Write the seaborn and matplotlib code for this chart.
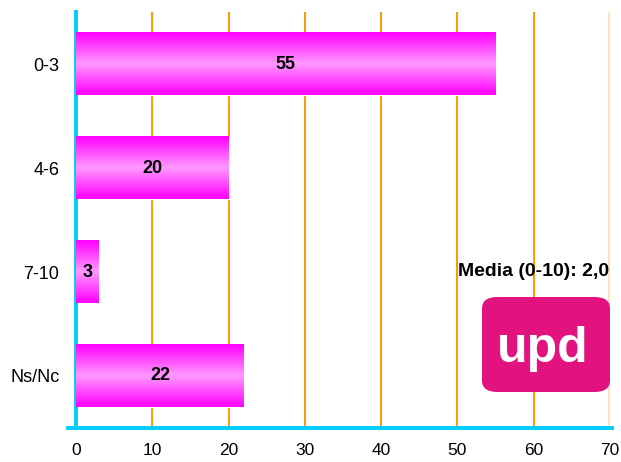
import numpy as np
import pandas as pd
import matplotlib
matplotlib.use("Agg")
import matplotlib.pyplot as plt
import seaborn as sns
from matplotlib.colors import LinearSegmentedColormap
from matplotlib.patches import FancyBboxPatch

# Data
categories = ["0-3", "4-6", "7-10", "Ns/Nc"]
values = [55, 20, 3, 22]
media_label = "Media (0-10): 2,0"

df = pd.DataFrame({"Rango": categories, "Porcentaje": values})

sns.set_style("white")
plt.rcParams["font.family"] = ["Liberation Sans", "DejaVu Sans"]

cyan = "#00CCFF"
orange = "#FF9900"

fig = plt.figure(figsize=(6.21, 4.62), dpi=100)
ax = fig.add_axes([0.1224, 0.0736, 0.86, 0.9004])

sns.barplot(data=df, x="Porcentaje", y="Rango", orient="h", order=categories,
            color="#FF00FF", width=0.6, ax=ax, zorder=2)

# vertical gradient inside each bar
grad_cmap = LinearSegmentedColormap.from_list("pinkgrad", ["#FF00FF", "#FF99FF", "#FF00FF"])
grad = np.linspace(0, 1, 100).reshape(-1, 1)
for p in ax.patches:
    x0, y0 = p.get_x(), p.get_y()
    w, h = p.get_width(), p.get_height()
    ax.imshow(grad, cmap=grad_cmap, aspect="auto", extent=[x0, x0 + w, y0 + h, y0],
              zorder=3, interpolation="bicubic")
    ax.text(x0 + w / 2, y0 + h / 2, f"{int(w)}", ha="center", va="center",
            fontsize=13, fontweight="bold", color="black", zorder=4)

ax.set_xlim(0, 70)
ax.set_ylim(3.5, -0.5)
ax.set_xticks(range(0, 71, 10))
ax.set_yticks(range(len(categories)))
ax.set_yticklabels(categories)
ax.set_yticks([-0.5, 0.5, 1.5, 2.5, 3.5], minor=True)
ax.set_xlabel("")
ax.set_ylabel("")

for xv in range(10, 70, 10):
    ax.axvline(xv, color=orange, lw=1.4, zorder=1)
ax.axvline(69.8, color="#FFE2B8", lw=1.4, zorder=1)

for s in ["top", "right"]:
    ax.spines[s].set_visible(False)
for s in ["left", "bottom"]:
    ax.spines[s].set_color(cyan)
    ax.spines[s].set_linewidth(2.8)
ax.spines["bottom"].set_bounds(-1.0, 70.3)

ax.tick_params(axis="y", which="major", length=0, labelsize=13, pad=12,
               labelcolor="black")
ax.tick_params(axis="y", which="minor", length=7, width=2.8, color=cyan)
ax.tick_params(axis="x", length=6, width=2.8, color=cyan, labelsize=12.5, pad=5,
               labelcolor="black")

# Media label and logo
fig.text(534 / 621, 1 - 271 / 462, media_label, ha="center", va="center",
         fontsize=14, fontweight="bold", color="black")
logo = FancyBboxPatch((482 / 621, 1 - 392 / 462), 128 / 621, 95 / 462,
                      boxstyle="round,pad=0,rounding_size=0.025",
                      transform=fig.transFigure, facecolor="#E2127E",
                      edgecolor="none", zorder=5)
fig.patches.append(logo)
fig.text(543 / 621, 1 - 362 / 462, "upd", ha="center", va="baseline",
         fontsize=36, fontweight="bold", color="white", zorder=6)

fig.savefig("out.png", dpi=100)
